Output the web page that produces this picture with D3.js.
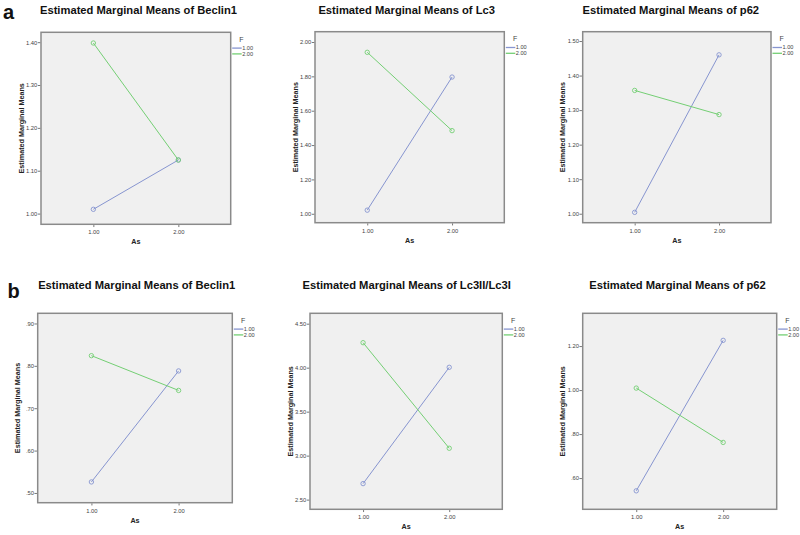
<!DOCTYPE html>
<html><head><meta charset="utf-8">
<script src="https://cdn.jsdelivr.net/npm/d3@7"></script>
<style>
html,body{margin:0;padding:0;background:#fff;}
svg{display:block;font-family:"Liberation Sans",Arial,sans-serif;}
</style></head>
<body>
<svg id="chart" width="800" height="535"></svg>
<script>
// ---- data ----
const panelTitles = ["Estimated Marginal Means of Beclin1","Estimated Marginal Means of Lc3","Estimated Marginal Means of p62",
                     "Estimated Marginal Means of Beclin1","Estimated Marginal Means of Lc3II/Lc3I","Estimated Marginal Means of p62"];
const asLevels = [1, 2];
const asTickLabels = ["1.00", "2.00"];
const seriesNames = ["1.00", "2.00"];
const f1Values = [[1.010,1.125],[1.021,1.796],[1.004,1.460],[0.526,0.788],[2.682,4.004],[0.542,1.226]];
const f2Values = [[1.398,1.125],[1.940,1.484],[1.357,1.287],[0.824,0.742],[4.284,3.084],[1.009,0.762]];
const yTicks = [[1.0,1.1,1.2,1.3,1.4],[1.0,1.2,1.4,1.6,1.8,2.0],[1.0,1.1,1.2,1.3,1.4,1.5],
                [0.5,0.6,0.7,0.8,0.9],[2.5,3.0,3.5,4.0,4.5],[0.6,0.8,1.0,1.2]];
const yDomains = [[0.975,1.423],[0.948,2.06],[0.974,1.527],[0.477,0.924],[2.39,4.618],[0.458,1.349]];
const xDomain = [0.384, 2.616];

// ---- layout ----
const boxes = [
  {l:41,   r:230.7, t:32.3,  b:224.3, tx:138.5, ty:13.5},
  {l:315,  r:504.3, t:31.7,  b:222.7, tx:406.7, ty:14},
  {l:582.7,r:771,   t:31.7,  b:222.7, tx:670.8, ty:14},
  {l:37.7, r:232.3, t:313.3, b:502.7, tx:136.7, ty:288.5},
  {l:310,  r:502.3, t:313.3, b:509.3, tx:406.7, ty:289},
  {l:582.7,r:776.7, t:313.3, b:509.3, tx:677.5, ty:289}
];
const colors = ["#8795d0", "#74cf74"];

const fmt = v => { const s = d3.format(".2f")(v); return v < 1 ? s.replace(/^0/, "") : s; };

const svg = d3.select("#chart");

svg.append("text").attr("x",3).attr("y",18.5).attr("font-size",20).attr("font-weight","bold").attr("fill","#111").text("a");
svg.append("text").attr("x",7.5).attr("y",297.5).attr("font-size",20).attr("font-weight","bold").attr("fill","#111").text("b");

boxes.forEach((bx, i) => {
  const g = svg.append("g");
  const x = d3.scaleLinear().domain(xDomain).range([bx.l, bx.r]);
  const y = d3.scaleLinear().domain(yDomains[i]).range([bx.b, bx.t]);

  g.append("rect").attr("x",bx.l).attr("y",bx.t).attr("width",bx.r-bx.l).attr("height",bx.b-bx.t)
    .attr("fill","#f0f0f0").attr("stroke","#8a8a8a").attr("stroke-width",1.5);

  // y axis
  const ya = g.append("g").attr("transform",`translate(${bx.l - 0.75},0)`)
    .call(d3.axisLeft(y).tickValues(yTicks[i]).tickSize(2.5).tickPadding(0.5).tickFormat(fmt));
  ya.select(".domain").remove();
  ya.selectAll("line").attr("stroke","#555").attr("stroke-width",0.8);
  ya.selectAll("text").attr("font-size",5.8).attr("fill","#444").attr("font-family","Liberation Sans,Arial,sans-serif");

  // x axis
  const xa = g.append("g").attr("transform",`translate(0,${bx.b + 0.75})`)
    .call(d3.axisBottom(x).tickValues(asLevels).tickSize(2).tickPadding(3).tickFormat((d,k)=>asTickLabels[k]));
  xa.select(".domain").remove();
  xa.selectAll("line").attr("stroke","#555").attr("stroke-width",0.8);
  xa.selectAll("text").attr("font-size",5.8).attr("fill","#444").attr("font-family","Liberation Sans,Arial,sans-serif");

  // titles
  g.append("text").attr("x",bx.tx).attr("y",bx.ty).attr("text-anchor","middle")
    .attr("font-size",11.2).attr("font-weight","bold").attr("fill","#111").text(panelTitles[i]);
  g.append("text").attr("transform",`translate(${bx.l-17.5},${(bx.t+bx.b)/2}) rotate(-90)`)
    .attr("text-anchor","middle").attr("font-size",7.2).attr("font-weight","bold").attr("fill","#222")
    .text("Estimated Marginal Means");
  g.append("text").attr("x",(bx.l+bx.r)/2).attr("y",bx.b+20).attr("text-anchor","middle")
    .attr("font-size",7.2).attr("font-weight","bold").attr("fill","#222").text("As");

  // series
  const series = [f1Values[i], f2Values[i]];
  const line = d3.line().x((d,k)=>x(asLevels[k])).y(d=>y(d));
  series.forEach((vals, s) => {
    g.append("path").datum(vals).attr("d", line).attr("fill","none")
      .attr("stroke", colors[s]).attr("stroke-width",1);
    g.selectAll(null).data(vals).enter().append("circle")
      .attr("cx",(d,k)=>x(asLevels[k])).attr("cy",d=>y(d)).attr("r",2.2)
      .attr("fill","none").attr("stroke",colors[s]).attr("stroke-width",0.9);
  });

  // legend
  const lg = g.append("g").attr("transform",`translate(${bx.r},${bx.t})`);
  lg.append("text").attr("x",8.6).attr("y",9.5).attr("font-size",7).attr("fill","#444").text("F");
  seriesNames.forEach((nm, s) => {
    const yy = 15.8 + s*5.8;
    lg.append("line").attr("x1",1.5).attr("x2",11).attr("y1",yy).attr("y2",yy)
      .attr("stroke",colors[s]).attr("stroke-width",1.3);
    lg.append("text").attr("x",11.5).attr("y",yy+2).attr("font-size",5.6).attr("fill","#444").text(nm);
  });
});
</script>
</body></html>
